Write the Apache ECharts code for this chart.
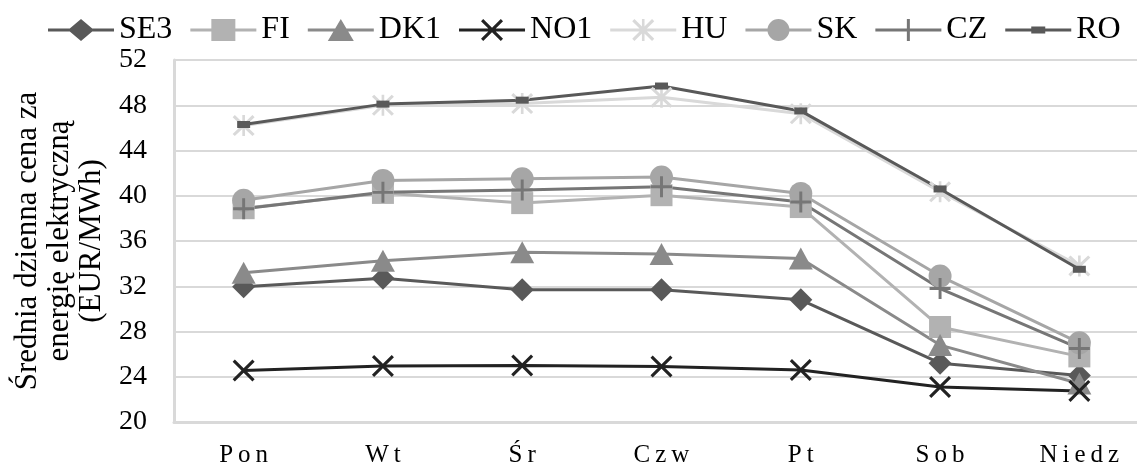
<!DOCTYPE html>
<html><head><meta charset="utf-8">
<script src="https://cdn.jsdelivr.net/npm/echarts@6/dist/echarts.min.js"></script>
<style>html,body{margin:0;padding:0;background:#fff}#c{width:1137px;height:468px}</style>
</head><body><div id="c"></div>
<script>
const categories = ['Pon', 'Wt', 'Śr', 'Czw', 'Pt', 'Sob', 'Niedz'];
const seriesNames = ['SE3', 'FI', 'DK1', 'NO1', 'HU', 'SK', 'CZ', 'RO'];
const SE3 = [31.95, 32.7, 31.7, 31.7, 30.8, 25.2, 24.1];
const FI = [38.9, 40.25, 39.35, 40.05, 39.0, 28.4, 25.8];
const DK1 = [33.2, 34.25, 35.0, 34.85, 34.45, 26.8, 23.4];
const NO1 = [24.55, 24.95, 25.0, 24.9, 24.6, 23.1, 22.75];
const HU = [46.2, 48.0, 48.15, 48.7, 47.25, 40.35, 33.8];
const SK = [39.6, 41.35, 41.5, 41.65, 40.2, 32.9, 27.0];
const CZ = [38.85, 40.3, 40.5, 40.8, 39.45, 31.8, 26.5];
const RO = [46.3, 48.1, 48.45, 49.7, 47.5, 40.6, 33.5];
const yTicks = [20, 24, 28, 32, 36, 40, 44, 48, 52];

const values = {SE3, FI, DK1, NO1, HU, SK, CZ, RO};

// marker shapes
const X_PATH = 'path://M0,2L2,0L10,8L18,0L20,2L12,10L20,18L18,20L10,12L2,20L0,18L8,10Z';
const STAR_PATH = 'path://M0,2L2,0L10,8L18,0L20,2L12,10L20,18L18,20L10,12L2,20L0,18L8,10Z M8.8,0H11.2V20H8.8Z';
const PLUS_PATH = 'path://M8.6,0H11.4V8.6H20V11.4H11.4V20H8.6V11.4H0V8.6H8.6Z';

// legend icons (line + marker) drawn in a 66x24 box
const BOX = 'M33,0L33,0Z M33,24L33,24Z ';
const BAR = 'M0,10.5H66V13.5H0Z ';
const legendIcons = {
  SE3: 'path://' + BOX + BAR + 'M33,1L46,12L33,23L20,12Z',
  FI:  'path://' + BOX + BAR + 'M21,1H45V23H21Z',
  DK1: 'path://' + BOX + BAR + 'M33,1L46,23L20,23Z',
  NO1: 'path://' + BOX + BAR + 'M22,3.2L24.2,1L33,9.8L41.8,1L44,3.2L35.2,12L44,20.8L41.8,23L33,14.2L24.2,23L22,20.8L30.8,12Z',
  HU:  'path://' + BOX + BAR + 'M22,3.2L24.2,1L33,9.8L41.8,1L44,3.2L35.2,12L44,20.8L41.8,23L33,14.2L24.2,23L22,20.8L30.8,12Z M31.7,1H34.3V23H31.7Z',
  SK:  'path://' + BOX + BAR + 'M22,12A11,11 0 1 1 44,12A11,11 0 1 1 22,12Z',
  CZ:  'path://' + BOX + BAR + 'M31.5,1H34.5V10.5H44V13.5H34.5V23H31.5V13.5H22V10.5H31.5Z',
  RO:  'path://' + BOX + BAR + 'M26,8.5H40V15.5H26Z'
};

const styles = {
  SE3: {color: '#595959', symbol: 'diamond', size: [23, 23]},
  FI:  {color: '#b2b2b2', symbol: 'rect', size: [22, 22]},
  DK1: {color: '#8a8a8a', symbol: 'triangle', size: [24, 22]},
  NO1: {color: '#222222', symbol: X_PATH, size: [22, 22]},
  HU:  {color: '#d9d9d9', symbol: STAR_PATH, size: [22, 21]},
  SK:  {color: '#a6a6a6', symbol: 'circle', size: [23, 23]},
  CZ:  {color: '#767676', symbol: PLUS_PATH, size: [21, 21]},
  RO:  {color: '#595959', symbol: 'rect', size: [13, 7]}
};
const FONT = 'Liberation Serif';

const chart = echarts.init(document.getElementById('c'), null, {renderer: 'canvas'});
chart.setOption({
  animation: false,
  backgroundColor: '#fff',
  legend: {
    top: 9, left: 43,
    itemWidth: 66, itemHeight: 24, itemGap: 18,
    symbolKeepAspect: false,
    textStyle: {fontFamily: FONT, fontSize: 32, color: '#000'},
    data: seriesNames.map(n => ({name: n, icon: legendIcons[n]}))
  },
  grid: {left: 174, right: -12, top: 60, bottom: 46, outerBoundsMode: 'none', containLabel: false},
  xAxis: {
    type: 'category', data: categories, boundaryGap: true,
    axisLine: {lineStyle: {color: '#d9d9d9', width: 3}},
    axisTick: {show: false},
    axisLabel: {
      interval: 0, margin: 21,
      fontFamily: FONT, fontSize: 25, lineHeight: 25, color: '#000',
      formatter: v => v.split('').map(c => '{s|' + c + '}').join(''),
      rich: {s: {fontFamily: FONT, fontSize: 25, lineHeight: 25, color: '#000', padding: [0, 2.5]}}
    }
  },
  yAxis: {
    type: 'value', min: yTicks[0], max: yTicks[yTicks.length - 1], interval: 4,
    name: 'Średnia dzienna cena za\nenergię elektryczną\n(EUR/MWh)',
    nameLocation: 'middle', nameRotate: 90, nameGap: 64,
    nameTextStyle: {fontFamily: FONT, fontSize: 31, color: '#000', lineHeight: 32, align: 'center'},
    axisLine: {show: true, lineStyle: {color: '#d9d9d9', width: 3}},
    axisTick: {show: false},
    splitLine: {lineStyle: {color: '#d9d9d9', width: 2}},
    axisLabel: {fontFamily: FONT, fontSize: 28, color: '#000', margin: 27, align: 'right'}
  },
  series: seriesNames.map(n => ({
    name: n, type: 'line', data: values[n],
    symbol: styles[n].symbol, symbolSize: styles[n].size, showSymbol: true,
    symbolKeepAspect: false,
    lineStyle: {color: styles[n].color, width: 3},
    itemStyle: {color: styles[n].color, borderWidth: 0},
    emphasis: {disabled: true}
  }))
});
</script></body></html>
